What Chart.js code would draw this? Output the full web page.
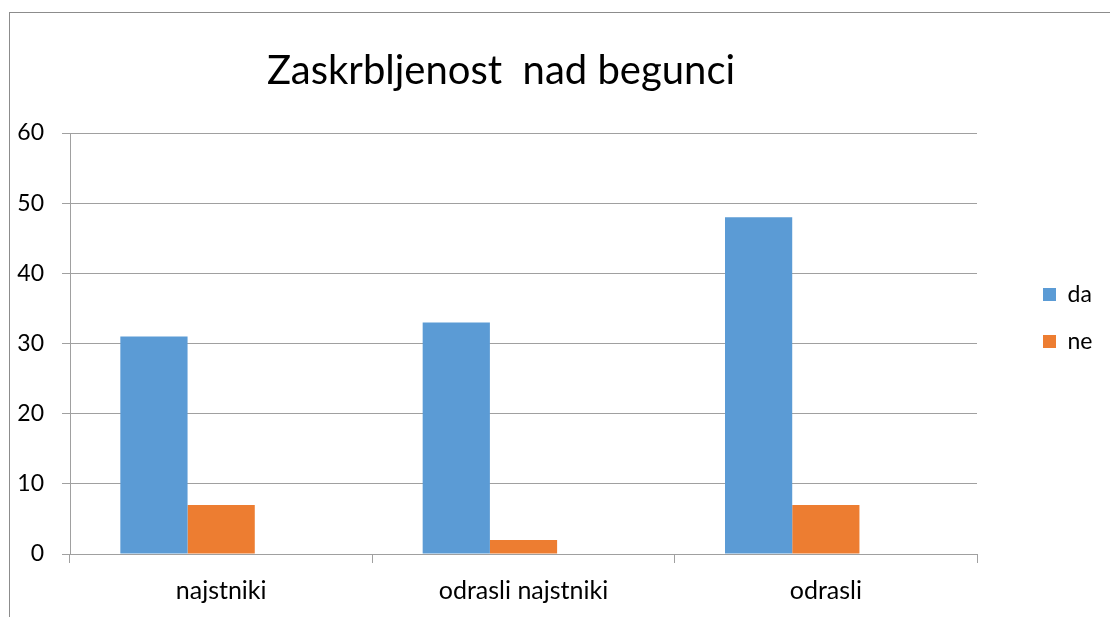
<!DOCTYPE html>
<html>
<head>
<meta charset="utf-8">
<title>Zaskrbljenost nad begunci</title>
<script src="https://cdn.jsdelivr.net/npm/chart.js@4.4.0/dist/chart.umd.min.js"></script>
<style>
  html, body { margin: 0; padding: 0; background: #fff; }
  #wrap { position: relative; width: 1110px; height: 617px; overflow: hidden; }
  #frame { position: absolute; left: 9px; top: 12px; right: -5px; bottom: -5px;
           border-top: 1px solid #8c8c8c; border-left: 1px solid #8c8c8c; }
  #chart { position: absolute; left: 0; top: 0; }
</style>
</head>
<body>
<div id="wrap">
  <div id="frame"></div>
  <canvas id="chart" width="1110" height="617"></canvas>
</div>
<script>
// === PODATKI ===
const categories = ["najstniki", "odrasli najstniki", "odrasli"];
const daValues = [31, 33, 48];
const neValues = [7, 2, 7];
const emptySeries = [null, null, null]; // prazna tretja serija (zamik stolpcev kot v Excelu)
const yTicks = [0, 10, 20, 30, 40, 50, 60];

const FONT = "Lato";
const GRID = "#a0a0a0";

// === POSTAVITEV LEGENDE ===
const legendPlacement = {
  id: "legendPlacement",
  afterLayout(chart) {
    const lg = chart.legend;
    lg.left = 1019; lg.right = 1110; lg.width = 91;
    lg.top = 259; lg.bottom = 617; lg.height = 358;
  },
};

// === GRAF ===
new Chart(document.getElementById("chart"), {
  type: "bar",
  data: {
    labels: categories,
    datasets: [
      { label: "da", data: daValues, backgroundColor: "#5b9bd5", borderWidth: 0 },
      { label: "ne", data: neValues, backgroundColor: "#ed7d31", borderWidth: 0 },
      { label: "", data: emptySeries, backgroundColor: "#a5a5a5", borderWidth: 0 },
    ],
  },
  options: {
    responsive: false,
    animation: false,
    devicePixelRatio: 1,
    layout: { padding: { left: 0, top: 0, right: 108, bottom: 0 } },
    datasets: { bar: { categoryPercentage: 0.667, barPercentage: 1 } },
    scales: {
      x: {
        afterFit: (s) => { s.height = 63; },
        grid: { display: true, drawOnChartArea: false, drawTicks: true, tickLength: 9, color: GRID },
        border: { display: true, color: GRID, width: 1 },
        ticks: { color: "#000", padding: 13, font: { family: FONT, size: 25 } },
      },
      y: {
        min: yTicks[0],
        max: yTicks[yTicks.length - 1],
        afterFit: (s) => { s.width = 70; },
        grid: { color: GRID, tickLength: 8, drawTicks: true },
        border: { display: true, color: GRID, width: 1 },
        ticks: { stepSize: yTicks[1] - yTicks[0], color: "#000", padding: 18, font: { family: FONT, size: 23 } },
      },
    },
    plugins: {
      title: {
        display: true,
        text: "Zaskrbljenost  nad begunci",
        color: "#000",
        font: { family: FONT, size: 40, weight: "normal", lineHeight: 1.2 },
        padding: { top: 47, bottom: 38 },
      },
      legend: {
        display: true,
        position: "right",
        align: "start",
        maxWidth: 25,
        labels: {
          color: "#000",
          font: { family: FONT, size: 23 },
          boxWidth: 13,
          boxHeight: 13,
          padding: 24,
          filter: (item) => item.text !== "",
        },
      },
      tooltip: { enabled: false },
    },
  },
  plugins: [legendPlacement],
});
</script>
</body>
</html>
